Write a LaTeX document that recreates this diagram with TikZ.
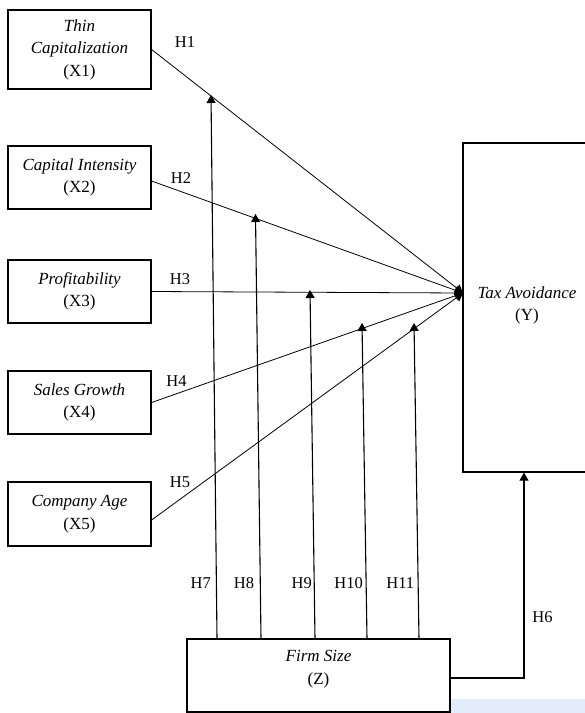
\documentclass[tikz,border=0pt]{standalone}
\usepackage{fontspec}
\setmainfont{LiberationSerif-Regular.ttf}[ItalicFont=LiberationSerif-Italic.ttf,BoldFont=LiberationSerif-Bold.ttf]
\usetikzlibrary{arrows.meta,calc}
\definecolor{paleblue}{HTML}{E4EDFB}
\tikzset{
  varbox/.style={draw, line width=1.2pt, minimum width=143pt, inner sep=0pt, align=center,
    font=\fontsize{17}{22.5}\selectfont},
  lbl/.style={font=\fontsize{16.5}{18}\selectfont, inner sep=0pt},
  txt/.style={align=center, inner sep=0pt, font=\fontsize{17}{22.5}\selectfont},
  path1/.style={line width=0.8pt, -{Triangle[width=9pt,length=8pt]}},
  mod/.style={line width=1.1pt, -{Triangle[width=9pt,length=8pt]}}
}
\begin{document}
\begin{tikzpicture}[x=1pt,y=-1pt]
\useasboundingbox (0,0) rectangle (585,713);
\fill[paleblue] (450,699) rectangle (590,716);
% boxes
\node[varbox, minimum height=79pt] (X1) at (79.5,49.5) {\textit{Thin}\\\textit{Capitalization}\\(X1)};
\node[varbox, minimum height=63pt] (X2) at (79.5,177.5) {\textit{Capital Intensity}\\(X2)};
\node[varbox, minimum height=63pt] (X3) at (79.5,291.5) {\textit{Profitability}\\(X3)};
\node[varbox, minimum height=63pt] (X4) at (79.5,402.5) {\textit{Sales Growth}\\(X4)};
\node[varbox, minimum height=64pt] (X5) at (79.5,514) {\textit{Company Age}\\(X5)};
\node[draw, line width=1.2pt, minimum width=128pt, minimum height=329pt, inner sep=0pt] (Y) at (527,307.5) {};
\node[txt] (Yt) at (527,305.5) {\textit{Tax Avoidance}\\(Y)};
\node[draw, line width=1.2pt, minimum width=263pt, minimum height=73pt, inner sep=0pt] (Z) at (318.5,675.5) {};
\node[txt] (Zt) at (318.5,669) {\textit{Firm Size}\\(Z)};
% target point
\coordinate (T) at (463,293);
\draw[path1] (X1.east) -- (T);
\draw[path1] ([yshift=-3.5pt]X2.east) -- (T);
\draw[path1] (X3.east) -- (T);
\draw[path1] (X4.east) -- (T);
\draw[path1] ([yshift=-6pt]X5.east) -- (T);
% moderation tips
\coordinate (t7) at (211,95);
\coordinate (t8) at (255.5,214);
\coordinate (t9) at (310,290);
\coordinate (t10) at (362,323);
\coordinate (t11) at (414,323);
\draw[mod] ([xshift=-101.5pt]Z.north) -- (t7);
\draw[mod] ([xshift=-57.5pt]Z.north) -- (t8);
\draw[mod] ([xshift=-3.5pt]Z.north) -- (t9);
\draw[mod] ([xshift=48.5pt]Z.north) -- (t10);
\draw[mod] ([xshift=100.5pt]Z.north) -- (t11);
\draw[mod] ([yshift=-2.5pt]Z.east) -| ([xshift=-3pt]Y.south);
% labels
\node[lbl] (h1) at (185,42) {H1};
\node[lbl] (h2) at (181,178.5) {H2};
\node[lbl] (h3) at (180,279) {H3};
\node[lbl] (h4) at (176.5,381) {H4};
\node[lbl] (h5) at (180,482) {H5};
\node[lbl] (h7) at (200.8,583) {H7};
\node[lbl] (h8) at (244,583) {H8};
\node[lbl] (h9) at (301.7,583) {H9};
\node[lbl] (h10) at (348.7,583) {H10};
\node[lbl] (h11) at (400.3,583) {H11};
\node[lbl] (h6) at (542.5,617) {H6};
\end{tikzpicture}
\end{document}
